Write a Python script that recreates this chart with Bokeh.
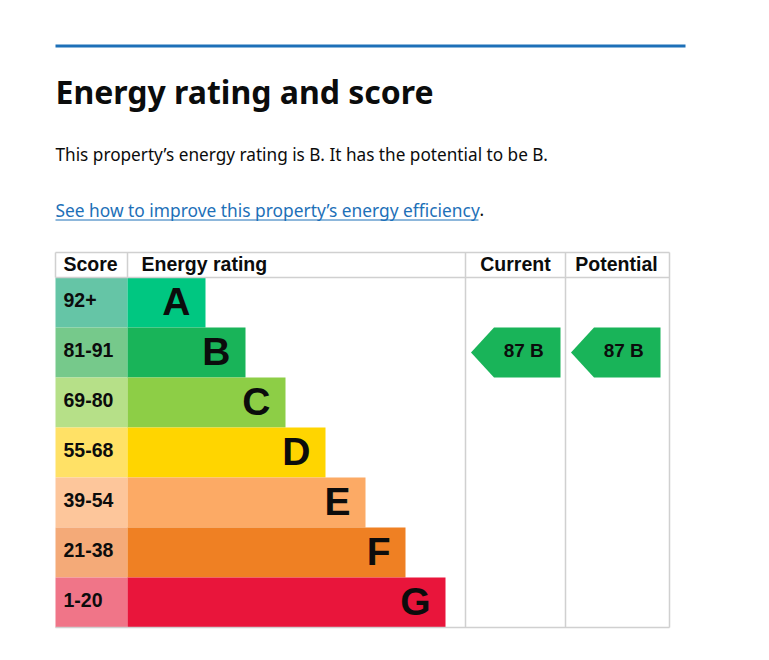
from bokeh.plotting import figure
from bokeh.models import Range1d
from bokeh.core.properties import value
from bokeh.embed import file_html
from bokeh.resources import INLINE

# ---- data ----
bands = ["A", "B", "C", "D", "E", "F", "G"]
score_ranges = ["92+", "81-91", "69-80", "55-68", "39-54", "21-38", "1-20"]
bar_colors = ["#00c781", "#19b459", "#8dce46", "#ffd500", "#fcaa65", "#ef8023", "#e9153b"]
score_colors = ["#65c5a6", "#76c98b", "#b6e088", "#ffe166", "#fdc69b", "#f4aa78", "#f07588"]
headers = ["Score", "Energy rating", "Current", "Potential"]
current_score, current_band = 87, "B"
potential_score, potential_band = 87, "B"
title = "Energy rating and score"
summary = "This property\u2019s energy rating is B. It has the potential to be B."
link_text = "See how to improve this property\u2019s energy efficiency"

W, H = 769, 660
p = figure(width=W, height=H, x_range=Range1d(0, W), y_range=Range1d(H, 0),
           output_backend="svg", toolbar_location=None, min_border=0)
p.axis.visible = False
p.grid.visible = False
p.outline_line_color = None
p.background_fill_color = "white"
p.border_fill_color = "white"

HEAD = "Noto Sans"
TAB = "Liberation Sans"
INK = "#0b0c0c"


def by(baseline, size):
    """y for a 'middle'-anchored text whose baseline should sit at `baseline`."""
    return baseline - 0.4 * size


# top rule
p.quad(left=[55], right=[685], top=[44], bottom=[47], fill_color="#1d70b8", line_color=None)
p.text(x=[55], y=[by(104, 32)], text=[title], text_font=value(HEAD), text_font_style="bold",
       text_font_size="32px", text_color=INK, text_baseline="middle")
p.text(x=[55], y=[by(161, 17.2)], text=[summary], text_font=value(HEAD),
       text_font_size="17.2px", text_color=INK, text_baseline="middle")
p.text(x=[55], y=[by(216, 17.35)], text=[link_text], text_font=value(HEAD),
       text_font_size="17.35px", text_color="#1d70b8", text_baseline="middle")
p.segment(x0=[55], x1=[478], y0=[219.5], y1=[219.5], line_color="#1d70b8", line_width=1)
p.text(x=[479], y=[by(216, 17.2)], text=["."], text_font=value(HEAD),
       text_font_size="17.2px", text_color=INK, text_baseline="middle")

# table layout
col_x = [55, 127, 465, 565, 669]
top, head_h, row_h = 252, 25, 50
row_top = [top + head_h + i * row_h for i in range(len(bands))]
row_mid = [t + row_h / 2 for t in row_top]
bottom = row_top[-1] + row_h
bar_right = [col_x[1] + 78 + 40 * i for i in range(len(bands))]

# score cells and bars
p.quad(left=[col_x[0]] * 7, right=[col_x[1]] * 7, top=row_top,
       bottom=[t + row_h for t in row_top], fill_color=score_colors, line_color=None)
p.quad(left=[col_x[1]] * 7, right=bar_right, top=row_top,
       bottom=[t + row_h for t in row_top], fill_color=bar_colors, line_color=None)
p.text(x=[63] * 7, y=[by(m + 5, 19.5) for m in row_mid], text=score_ranges,
       text_font=value(TAB), text_font_style="bold", text_font_size="19.5px",
       text_color=INK, text_baseline="middle")
p.text(x=[r - 15 for r in bar_right], y=[by(m + 14.7, 39) for m in row_mid], text=bands,
       text_font=value(TAB), text_font_style="bold", text_font_size="39px",
       text_color=INK, text_align="right", text_baseline="middle")

# grid lines
gc = "#d0d0d0"
p.segment(x0=[col_x[0], col_x[0], col_x[0]], x1=[col_x[-1]] * 3,
          y0=[top, top + head_h, bottom], y1=[top, top + head_h, bottom],
          line_color=gc, line_width=1.5)
p.segment(x0=[col_x[0], col_x[1]], x1=[col_x[0], col_x[1]], y0=[top, top],
          y1=[top + head_h, top + head_h], line_color=gc, line_width=1.5)
p.segment(x0=col_x[2:], x1=col_x[2:], y0=[top] * 3, y1=[bottom] * 3,
          line_color=gc, line_width=1.5)

# headers
hb = by(top + 19.7, 19.5)
p.text(x=[63, 141], y=[hb] * 2, text=headers[:2], text_font=value(TAB),
       text_font_style="bold", text_font_size="19.5px", text_color=INK, text_baseline="middle")
p.text(x=[(col_x[2] + col_x[3]) / 2, (col_x[3] + col_x[4]) / 2 - 1], y=[hb] * 2,
       text=headers[2:], text_font=value(TAB), text_font_style="bold", text_font_size="19.5px",
       text_color=INK, text_align="center", text_baseline="middle")


# arrows
def arrow(col, score, band):
    i = bands.index(band)
    t, b = row_top[i], row_top[i] + row_h
    tip = col_x[col] + 5.5
    right = col_x[col + 1] - 5 if col + 1 < len(col_x) - 1 else col_x[col + 1] - 9
    xs = [tip, tip + 23, right, right, tip + 23]
    ys = [(t + b) / 2, t, t, b, b]
    p.patch(xs, ys, fill_color=bar_colors[i], line_color=None)
    p.text(x=[(tip + 23 + right) / 2 - 3.5], y=[by(row_mid[i] + 5.7, 19)],
           text=[f"{score}\u00a0{band}"],
           text_font=value(TAB), text_font_style="bold", text_font_size="19px",
           text_color=INK, text_align="center", text_baseline="middle")


arrow(2, current_score, current_band)
arrow(3, potential_score, potential_band)

open("out.html", "w").write(file_html(p, INLINE))
